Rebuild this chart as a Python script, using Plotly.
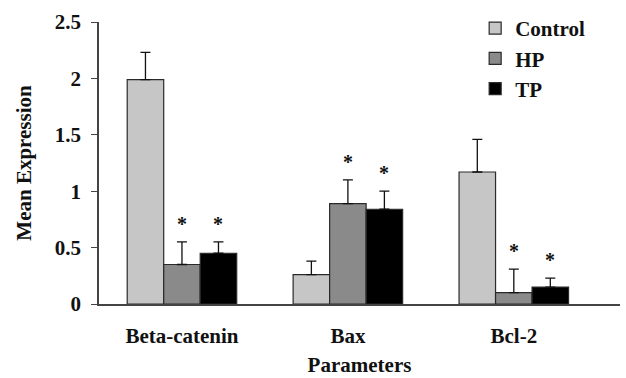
import plotly.graph_objects as go

categories = ["Beta-catenin", "Bax", "Bcl-2"]
series_names = ["Control", "HP", "TP"]
control_vals = [1.99, 0.26, 1.17]
hp_vals = [0.35, 0.89, 0.10]
tp_vals = [0.45, 0.84, 0.15]
control_err = [0.24, 0.12, 0.29]
hp_err = [0.20, 0.21, 0.21]
tp_err = [0.10, 0.16, 0.08]
# significance markers (True = '*')
control_sig = [False, False, False]
hp_sig = [True, True, True]
tp_sig = [True, True, True]
y_ticks = [0, 0.5, 1, 1.5, 2, 2.5]
y_tick_labels = ["0", "0.5", "1", "1.5", "2", "2.5"]

colors = ["#C6C6C6", "#8A8A8A", "#000000"]
FONT = "Liberation Serif"
TXT = "#111111"

fig = go.Figure()
all_vals = [control_vals, hp_vals, tp_vals]
all_errs = [control_err, hp_err, tp_err]
all_sig = [control_sig, hp_sig, tp_sig]
for i, (name, vals, errs, col) in enumerate(zip(series_names, all_vals, all_errs, colors)):
    fig.add_trace(go.Bar(
        x=categories, y=vals, name=name, legendgroup="g%d" % i,
        marker=dict(color=col, line=dict(color="#2a2a2a", width=1.2)),
        error_y=dict(type="data", array=errs, arrayminus=[0] * len(errs),
                     symmetric=False, color="#111111", thickness=1.3, width=5),
    ))

bargap = 0.34
bw = (1 - bargap) / 3
for si, (vals, errs, sigs) in enumerate(zip(all_vals, all_errs, all_sig)):
    for ci, (v, e, s) in enumerate(zip(vals, errs, sigs)):
        if s:
            fig.add_annotation(
                x=ci + (si - 1) * bw, y=v + e, xref="x", yref="y",
                text="*", showarrow=False, yanchor="bottom", yshift=5,
                font=dict(family=FONT, size=20, color=TXT),
            )

fig.update_layout(
    template="none",
    width=626, height=378,
    margin=dict(l=99, r=6, t=22, b=74, pad=0),
    plot_bgcolor="white", paper_bgcolor="white",
    barmode="group", bargap=bargap, bargroupgap=0,
    font=dict(family=FONT, size=21, color=TXT, weight="bold"),
    showlegend=True,
    legend=dict(x=0.722, y=1.05, xanchor="left", yanchor="top",
                font=dict(family=FONT, size=21, color=TXT, weight="bold"),
                bgcolor="rgba(0,0,0,0)", borderwidth=0,
                traceorder="grouped", tracegroupgap=0),
)
fig.update_xaxes(
    range=[-0.5, 2.64], showline=True, linecolor="#444444", linewidth=1.5,
    ticks="", showgrid=False, zeroline=False, automargin=False,
    ticklabelstandoff=12,
    tickfont=dict(family=FONT, size=21, color=TXT, weight="bold"),
    title=dict(text="Parameters", font=dict(family=FONT, size=21, color=TXT, weight="bold"), standoff=10),
)
fig.update_yaxes(
    range=[0, 2.5], tickvals=y_ticks, ticktext=y_tick_labels,
    showline=True, linecolor="#444444", linewidth=1.5,
    ticks="outside", ticklen=6, tickwidth=1.2, tickcolor="#444444",
    showgrid=False, zeroline=False, automargin=False,
    ticklabelstandoff=6,
    tickfont=dict(family=FONT, size=21, color=TXT, weight="bold"),
    title=dict(text="Mean Expression", font=dict(family=FONT, size=21, color=TXT, weight="bold"), standoff=17),
)

fig.write_html("out.html", config={"displayModeBar": False})
# remove the browser's default body margin so the figure sits at the page origin
with open("out.html", encoding="utf-8") as f:
    html = f.read()
html = html.replace("<body>", '<body style="margin:0;padding:0;">', 1)
with open("out.html", "w", encoding="utf-8") as f:
    f.write(html)
